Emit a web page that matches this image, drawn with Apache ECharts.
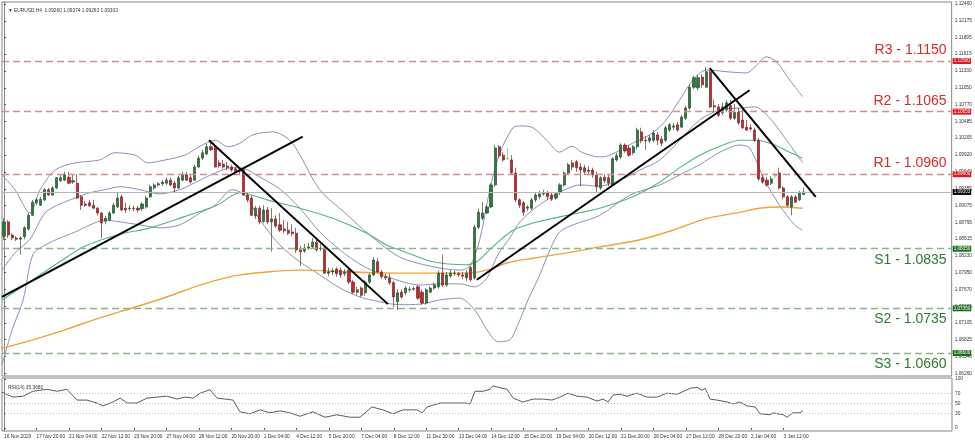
<!DOCTYPE html>
<html><head><meta charset="utf-8">
<script src="https://cdn.jsdelivr.net/npm/echarts@6/dist/echarts.min.js"></script>
<style>html,body{margin:0;padding:0;background:#fff}#c{width:975px;height:442px}</style>
</head><body><div id="c"></div>
<script>
const tradingDays = ['16 Nov','17 Nov','20 Nov','21 Nov','22 Nov','23 Nov','24 Nov','27 Nov','28 Nov','29 Nov','30 Nov','1 Dec','4 Dec','5 Dec','6 Dec','7 Dec','8 Dec','11 Dec','12 Dec','13 Dec','14 Dec','15 Dec','18 Dec','19 Dec','20 Dec','21 Dec','22 Dec','26 Dec','27 Dec','28 Dec','29 Dec','2 Jan','3 Jan','4 Jan'];
// [open, close, low, high]
const candles = [
[1.0856,1.0880,1.0850,1.0886],[1.0880,1.0858,1.0853,1.0883],[1.0858,1.0853,1.0850,1.0861],[1.0853,1.0851,1.0848,1.0856],[1.0851,1.0853,1.0825,1.0856],
[1.0855,1.0870,1.0851,1.0873],[1.0868,1.0891,1.0865,1.0895],[1.0891,1.0913,1.0890,1.0917],[1.0912,1.0917,1.0908,1.0920],[1.0908,1.0918,1.0907,1.0922],
[1.0917,1.0934,1.0915,1.0937],[1.0934,1.0925,1.0924,1.0937],[1.0925,1.0937,1.0924,1.0940],[1.0937,1.0954,1.0935,1.0955],[1.0949,1.0954,1.0947,1.0959],
[1.0950,1.0959,1.0949,1.0964],[1.0955,1.0945,1.0944,1.0964],[1.0947,1.0949,1.0944,1.0960],[1.0945,1.0920,1.0918,1.0960],[1.0922,1.0908,1.0900,1.0925],
[1.0910,1.0908,1.0905,1.0915],[1.0912,1.0907,1.0905,1.0917],[1.0908,1.0903,1.0902,1.0917],[1.0903,1.0895,1.0891,1.0905],[1.0895,1.0878,1.0853,1.0896],
[1.0881,1.0886,1.0876,1.0890],[1.0883,1.0895,1.0881,1.0898],[1.0895,1.0908,1.0893,1.0912],[1.0905,1.0920,1.0903,1.0929],[1.0922,1.0900,1.0898,1.0925],
[1.0903,1.0900,1.0895,1.0912],[1.0902,1.0903,1.0898,1.0908],[1.0903,1.0902,1.0898,1.0907],[1.0903,1.0900,1.0896,1.0907],[1.0902,1.0910,1.0898,1.0913],
[1.0905,1.0920,1.0902,1.0924],[1.0922,1.0939,1.0920,1.0942],[1.0937,1.0942,1.0934,1.0945],[1.0942,1.0944,1.0939,1.0947],[1.0944,1.0947,1.0940,1.0950],
[1.0945,1.0950,1.0942,1.0954],[1.0950,1.0942,1.0940,1.0954],[1.0945,1.0937,1.0929,1.0949],[1.0937,1.0954,1.0935,1.0957],[1.0950,1.0959,1.0949,1.0964],
[1.0959,1.0950,1.0949,1.0964],[1.0954,1.0947,1.0944,1.0959],[1.0950,1.0972,1.0949,1.0976],[1.0972,1.0987,1.0971,1.0991],[1.0987,1.0996,1.0984,1.1001],
[1.0994,1.1006,1.0992,1.1011],[1.1006,1.1001,1.0999,1.1017],[1.1004,1.0972,1.0971,1.1009],[1.0979,1.0974,1.0971,1.0984],[1.0977,1.0972,1.0969,1.0984],
[1.0974,1.0971,1.0967,1.0981],[1.0972,1.0967,1.0964,1.0976],[1.0969,1.0965,1.0962,1.0972],[1.0965,1.0967,1.0960,1.0972],[1.0967,1.0925,1.0924,1.0971],
[1.0925,1.0917,1.0913,1.0930],[1.0920,1.0891,1.0890,1.0924],[1.0890,1.0903,1.0885,1.0907],[1.0903,1.0880,1.0876,1.0907],[1.0881,1.0900,1.0878,1.0908],
[1.0900,1.0880,1.0876,1.0905],[1.0880,1.0885,1.0830,1.0903],[1.0885,1.0873,1.0870,1.0891],[1.0875,1.0866,1.0863,1.0895],[1.0868,1.0865,1.0861,1.0883],
[1.0866,1.0861,1.0858,1.0880],[1.0863,1.0860,1.0856,1.0876],[1.0861,1.0833,1.0828,1.0870],[1.0833,1.0830,1.0806,1.0840],[1.0831,1.0836,1.0828,1.0843],
[1.0836,1.0838,1.0833,1.0845],[1.0838,1.0846,1.0835,1.0853],[1.0846,1.0833,1.0830,1.0850],[1.0835,1.0836,1.0831,1.0843],[1.0836,1.0794,1.0793,1.0840],
[1.0794,1.0796,1.0789,1.0803],[1.0796,1.0798,1.0791,1.0803],[1.0801,1.0793,1.0788,1.0804],[1.0799,1.0791,1.0786,1.0803],[1.0793,1.0796,1.0789,1.0801],
[1.0799,1.0779,1.0776,1.0803],[1.0779,1.0762,1.0759,1.0783],[1.0762,1.0766,1.0757,1.0771],[1.0769,1.0757,1.0754,1.0772],[1.0761,1.0779,1.0756,1.0783],
[1.0779,1.0791,1.0776,1.0794],[1.0791,1.0816,1.0789,1.0821],[1.0813,1.0796,1.0794,1.0819],[1.0796,1.0788,1.0784,1.0799],[1.0788,1.0786,1.0783,1.0793],
[1.0786,1.0778,1.0774,1.0793],[1.0778,1.0754,1.0737,1.0781],[1.0746,1.0761,1.0732,1.0767],[1.0762,1.0754,1.0751,1.0767],[1.0761,1.0769,1.0757,1.0772],
[1.0766,1.0767,1.0762,1.0771],[1.0767,1.0768,1.0764,1.0772],[1.0771,1.0752,1.0749,1.0774],[1.0762,1.0744,1.0741,1.0766],[1.0744,1.0766,1.0741,1.0769],
[1.0762,1.0769,1.0761,1.0772],[1.0769,1.0774,1.0766,1.0778],[1.0771,1.0794,1.0768,1.0798],[1.0794,1.0774,1.0771,1.0825],[1.0774,1.0791,1.0771,1.0796],
[1.0789,1.0794,1.0786,1.0799],[1.0793,1.0794,1.0789,1.0798],[1.0793,1.0791,1.0788,1.0796],[1.0791,1.0789,1.0784,1.0796],[1.0786,1.0794,1.0781,1.0799],
[1.0803,1.0783,1.0779,1.0806],[1.0786,1.0871,1.0783,1.0875],[1.0871,1.0896,1.0868,1.0902],[1.0886,1.0895,1.0883,1.0913],[1.0895,1.0905,1.0893,1.0908],
[1.0905,1.0942,1.0903,1.0945],[1.0942,1.1004,1.0939,1.1009],[1.1006,1.0991,1.0987,1.1009],[1.0992,1.0984,1.0981,1.0997],[1.0986,1.0987,1.0984,1.1004],
[1.0984,1.0962,1.0959,1.0992],[1.0962,1.0917,1.0913,1.0971],[1.0917,1.0908,1.0903,1.0920],[1.0912,1.0896,1.0890,1.0915],[1.0903,1.0905,1.0898,1.0908],
[1.0903,1.0917,1.0900,1.0920],[1.0917,1.0925,1.0913,1.0929],[1.0922,1.0927,1.0918,1.0932],[1.0927,1.0929,1.0924,1.0934],[1.0929,1.0922,1.0917,1.0932],
[1.0925,1.0918,1.0915,1.0929],[1.0920,1.0927,1.0917,1.0930],[1.0929,1.0942,1.0925,1.0945],[1.0942,1.0962,1.0939,1.0965],[1.0962,1.0976,1.0959,1.0979],
[1.0979,1.0972,1.0967,1.0984],[1.0981,1.0971,1.0964,1.0984],[1.0972,1.0967,1.0940,1.0979],[1.0971,1.0964,1.0959,1.0976],[1.0967,1.0965,1.0960,1.0974],
[1.0967,1.0959,1.0954,1.0971],[1.0959,1.0939,1.0930,1.0964],[1.0937,1.0954,1.0934,1.0957],[1.0955,1.0949,1.0945,1.0960],[1.0954,1.0945,1.0940,1.0959],
[1.0942,1.0986,1.0939,1.0989],[1.0984,1.0991,1.0981,1.0996],[1.0989,1.1009,1.0986,1.1012],[1.1009,1.0999,1.0996,1.1012],[1.1004,1.0992,1.0989,1.1009],
[1.0996,1.1006,1.0992,1.1009],[1.1006,1.1034,1.1002,1.1038],[1.1031,1.1016,1.1012,1.1038],[1.1017,1.1016,1.1001,1.1024],[1.1016,1.1021,1.1012,1.1026],
[1.1017,1.1029,1.1014,1.1034],[1.1026,1.1017,1.1009,1.1031],[1.1019,1.1012,1.1007,1.1024],[1.1017,1.1038,1.1014,1.1041],[1.1034,1.1043,1.1031,1.1046],
[1.1039,1.1041,1.1034,1.1046],[1.1043,1.1034,1.1031,1.1048],[1.1039,1.1056,1.1038,1.1059],[1.1054,1.1071,1.1051,1.1075],[1.1071,1.1106,1.1068,1.1110],
[1.1106,1.1122,1.1103,1.1125],[1.1105,1.1122,1.1101,1.1127],[1.1123,1.1110,1.1105,1.1128],[1.1106,1.1132,1.1105,1.1140],[1.1132,1.1073,1.1071,1.1135],
[1.1075,1.1073,1.1064,1.1085],[1.1073,1.1059,1.1056,1.1078],[1.1063,1.1073,1.1059,1.1080],[1.1068,1.1080,1.1064,1.1085],[1.1075,1.1054,1.1051,1.1085],
[1.1054,1.1064,1.1051,1.1078],[1.1064,1.1046,1.1043,1.1071],[1.1051,1.1038,1.1036,1.1071],[1.1039,1.1034,1.1033,1.1051],[1.1038,1.1036,1.1033,1.1044],
[1.1034,1.1017,1.1014,1.1038],[1.1017,1.0952,1.0949,1.1021],[1.0954,1.0947,1.0944,1.0959],[1.0950,1.0942,1.0939,1.0955],[1.0945,1.0952,1.0942,1.0957],
[1.0957,1.0959,1.0954,1.0964],[1.0962,1.0937,1.0934,1.0971],[1.0937,1.0922,1.0918,1.0940],[1.0922,1.0908,1.0905,1.0925],[1.0905,1.0922,1.0891,1.0925],
[1.0922,1.0913,1.0912,1.0925],[1.0917,1.0929,1.0915,1.0932],[1.0926,1.0930,1.0926,1.0937]
];
const lightCandles = [124, 190];
const priceTicks = [1.12460,1.12175,1.11895,1.11615,1.11330,1.11050,1.10770,1.10485,1.10205,1.09920,1.09640,1.09355,1.09075,1.08795,1.08515,1.08230,1.07950,1.07670,1.07385,1.07105,1.06825,1.06540,1.06260];
// [bar index, price]
const bbUpper = [[-0.5,1.0959],[2.7,1.0934],[6.4,1.0895],[8.9,1.0934],[12.6,1.0967],[17.5,1.0979],[23.6,1.0984],[27.3,1.0996],[32.3,1.0992],[35.5,1.0979],[39.7,1.0984],[44.6,1.0992],[48.3,1.1007],[52.0,1.1017],[55.2,1.1006],[58.1,1.1012],[61.3,1.1026],[66.3,1.1031],[70.4,1.1017],[72.9,1.0992],[77.8,1.0934],[84.0,1.0895],[90.1,1.0858],[97.5,1.0821],[104.9,1.0806],[112.3,1.0799],[114.8,1.0806],[117.2,1.0850],[119.7,1.0934],[122.2,1.0996],[125.4,1.1038],[127.1,1.1041],[130.3,1.1038],[133.7,1.1017],[136.9,1.0997],[139.9,1.1007],[142.6,1.0996],[146.8,1.0989],[149.3,1.0992],[154.9,1.1012],[159.1,1.1026],[162.8,1.1048],[166.5,1.1085],[170.2,1.1122],[173.2,1.1135],[178.1,1.1132],[183.0,1.1130],[185.0,1.1140],[187.9,1.1157],[190.4,1.1148],[193.6,1.1118],[196.8,1.1090]];
const bbMiddle = [[-0.5,1.0799],[2.7,1.0828],[6.4,1.0851],[10.1,1.0895],[13.8,1.0910],[17.5,1.0920],[21.2,1.0929],[24.9,1.0934],[28.6,1.0939],[33.5,1.0934],[38.4,1.0927],[43.3,1.0934],[48.3,1.0950],[52.0,1.0962],[56.2,1.0971],[59.4,1.0969],[63.1,1.0955],[68.0,1.0935],[72.9,1.0903],[77.8,1.0863],[82.8,1.0833],[87.7,1.0809],[92.6,1.0793],[97.5,1.0781],[102.5,1.0774],[107.4,1.0776],[112.3,1.0776],[116.0,1.0771],[119.0,1.0786],[121.7,1.0825],[124.6,1.0853],[127.1,1.0880],[130.8,1.0903],[134.5,1.0920],[138.2,1.0934],[141.9,1.0942],[146.8,1.0940],[151.7,1.0950],[156.7,1.0967],[161.6,1.0984],[166.5,1.1017],[171.4,1.1051],[176.4,1.1068],[181.3,1.1071],[185.0,1.1073],[188.7,1.1054],[192.4,1.1021],[196.8,1.0979]];
const bbLower = [[-0.5,1.0640],[2.0,1.0699],[4.7,1.0749],[7.1,1.0825],[10.1,1.0841],[13.8,1.0853],[17.5,1.0863],[21.2,1.0875],[24.9,1.0883],[28.6,1.0880],[33.5,1.0875],[38.4,1.0870],[43.3,1.0875],[48.3,1.0895],[52.0,1.0908],[56.2,1.0934],[59.4,1.0925],[63.1,1.0883],[68.0,1.0841],[72.9,1.0813],[77.8,1.0791],[82.8,1.0769],[87.7,1.0754],[92.6,1.0746],[97.5,1.0741],[102.5,1.0742],[107.4,1.0749],[112.3,1.0752],[116.0,1.0732],[119.0,1.0699],[121.7,1.0679],[124.6,1.0682],[126.6,1.0707],[129.1,1.0749],[132.0,1.0791],[134.5,1.0833],[136.9,1.0863],[140.6,1.0876],[146.8,1.0891],[154.2,1.0925],[161.6,1.0942],[166.5,1.0959],[171.4,1.0976],[176.4,1.0997],[181.3,1.1009],[183.7,1.1004],[187.4,1.0950],[191.1,1.0908],[194.8,1.0875],[196.8,1.0866]];
const maGreen = [[-0.5,1.0749],[7.1,1.0783],[15.5,1.0821],[19.5,1.0838],[27.8,1.0858],[36.0,1.0870],[44.1,1.0888],[52.5,1.0908],[58.1,1.0929],[64.8,1.0917],[72.9,1.0903],[81.0,1.0886],[89.4,1.0861],[94.3,1.0841],[97.5,1.0833],[105.7,1.0813],[114.0,1.0808],[116.5,1.0813],[120.4,1.0838],[125.4,1.0866],[130.3,1.0878],[138.7,1.0891],[146.8,1.0903],[154.9,1.0922],[161.6,1.0947],[166.5,1.0971],[171.4,1.0992],[176.4,1.1007],[181.3,1.1017],[185.5,1.1017],[189.9,1.1009],[193.6,1.0997],[196.8,1.0987]];
const maOrange = [[-0.5,1.0668],[7.1,1.0682],[15.5,1.0700],[23.6,1.0719],[31.8,1.0736],[40.1,1.0754],[48.3,1.0774],[56.4,1.0789],[64.8,1.0796],[72.9,1.0799],[85.2,1.0796],[97.5,1.0794],[114.0,1.0794],[119.0,1.0799],[123.9,1.0811],[130.3,1.0819],[138.7,1.0828],[146.8,1.0838],[156.7,1.0850],[164.8,1.0866],[173.2,1.0886],[181.3,1.0896],[186.2,1.0903],[191.1,1.0905],[196.8,1.0903]];
const trendLines = [
  [[-0.5,1.0754],[73.6,1.1023]],
  [[50.5,1.1017],[94.6,1.0742]],
  [[116.5,1.0783],[183.7,1.1101]],
  [[173.9,1.1138],[200.0,1.0922]]
];
const levelNames = ['R3','R2','R1','S1','S2','S3'];
const levelValues = [1.1150,1.1065,1.0960,1.0835,1.0735,1.0660];
const lastPrice = 1.09303;
const rsiPoints = [[-0.5,73],[2.2,63],[4.7,65],[7.1,75],[10.6,79],[13.1,75],[15.5,79],[18.0,57],[20.4,57],[22.9,51],[24.4,45],[26.8,53],[28.6,61],[30.3,51],[32.8,51],[35.2,61],[37.7,63],[40.1,65],[42.6,59],[44.6,63],[46.6,61],[48.3,71],[50.7,78],[52.5,61],[56.4,57],[58.1,33],[60.6,29],[63.1,37],[65.5,31],[68.0,35],[70.4,31],[72.9,24],[76.1,33],[79.1,22],[82.0,27],[85.2,22],[87.7,22],[90.6,43],[93.3,37],[95.8,29],[98.3,37],[101.7,37],[103.0,31],[104.2,43],[107.4,51],[109.9,51],[113.5,51],[114.8,49],[116.0,75],[118.0,75],[119.7,79],[120.4,86],[122.2,82],[123.9,79],[125.4,61],[127.8,53],[130.3,59],[132.8,59],[135.0,57],[136.9,63],[138.9,71],[141.1,65],[143.6,63],[146.1,55],[147.5,59],[148.8,53],[150.0,67],[151.7,69],[153.4,65],[155.9,71],[158.4,63],[160.8,63],[163.3,71],[165.8,69],[169.0,81],[170.7,83],[171.9,77],[172.7,81],[173.9,59],[175.6,57],[178.1,53],[179.6,49],[181.3,53],[183.0,45],[185.0,43],[186.2,29],[188.7,27],[189.4,31],[191.9,27],[192.9,22],[194.3,31],[196.1,31],[196.8,35.4]];
const rsiTicks = [0,30,50,70,100];
const rsiLevels = [30,50,70];

const SLOTS = 234;
const cats = [];
tradingDays.forEach((d,k)=>{
  const hrs = k===0 ? [12,16,20] : (k===tradingDays.length-1 ? [0,4,8] : [0,4,8,12,16,20]);
  hrs.forEach(h=>cats.push(d+' '+String(h).padStart(2,'0')+':00'));
});
cats[0] = '16 Nov 2023';
const nBars = cats.length;
while (cats.length < SLOTS) cats.push('');
const showLabel = (i) => i===0 || (i%8===0 && i<nBars);

const SMALL = {fontSize:4.8, color:'#333', fontFamily:'Liberation Sans'};
const red = '#d42b2b', green = '#2c7a2c';
const lvlItems = [];
levelValues.forEach((v,k)=>{
  const isR = levelNames[k][0]==='R';
  lvlItems.push({yAxis:v, lineStyle:{color: isR?'#d88a8a':'#8db58d', type:[7,4], width:1.4},
    label:{show:true, position:'end', distance:1, formatter:v.toFixed(5), backgroundColor: isR?'#e3161c':'#1d6e1d', color:'#fff', fontSize:4.6, padding:[1,1,0,1], fontFamily:'Liberation Sans'}});
  lvlItems.push({yAxis:v, lineStyle:{color:'rgba(0,0,0,0)', width:0.1},
    label:{show:true, position: isR?'insideEndTop':'insideEndBottom', distance:[5,4], formatter: levelNames[k]+' - '+v.toFixed(4), color: isR?red:green, fontSize:14, fontFamily:'Liberation Sans'}});
});
lvlItems.push({yAxis:lastPrice, lineStyle:{color:'#b5b5b5', type:'solid', width:1},
  label:{show:true, position:'end', distance:1, formatter:lastPrice.toFixed(5), backgroundColor:'#000', color:'#fff', fontSize:4.6, padding:[1,1,0,1], fontFamily:'Liberation Sans'}});

const lineS = (data, color, width, extra) => Object.assign({type:'line', xAxisIndex:2, yAxisIndex:0, data, showSymbol:false, symbol:'none', smooth:0.3, lineStyle:{color, width}, silent:true, z:3}, extra||{});

const series = [
  lineS(bbUpper,'#8d8fb8',1),
  lineS(bbMiddle,'#8d8fb8',1),
  lineS(bbLower,'#8d8fb8',1),
  lineS(maGreen,'#4fb586',1.1),
  lineS(maOrange,'#eea43a',1.4,{markLine:{symbol:['none','none'], precision:5, silent:true, animation:false, data: lvlItems}}),
  {type:'candlestick', xAxisIndex:0, yAxisIndex:0, barWidth:2.6, z:4,
   data: candles.map((c,i)=> lightCandles.includes(i) ? {value:c, itemStyle:{color:'#8fd88f', borderColor:'#74c074'}} : c),
   itemStyle:{color:'#2b7d3a', color0:'#c8262b', borderColor:'#2d4a33', borderColor0:'#6d2a2a', borderWidth:0.7}}
];
trendLines.forEach(t=>series.push({type:'line', xAxisIndex:2, yAxisIndex:0, data:t, showSymbol:false, symbol:'none', lineStyle:{color:'#000', width:2}, z:5, silent:true}));
series.push({type:'line', xAxisIndex:3, yAxisIndex:1, data:rsiPoints, showSymbol:false, symbol:'none', lineStyle:{color:'#5c5c5c', width:1}, silent:true,
  markLine:{symbol:['none','none'], precision:2, silent:true, label:{show:false}, lineStyle:{color:'#bdbdbd', type:[1,2], width:1}, data: rsiLevels.map(v=>({yAxis:v}))}});

const chart = echarts.init(document.getElementById('c'), null, {renderer:'canvas'});
chart.setOption({
  animation:false,
  backgroundColor:'#fff',
  title:[
    {text:'▼ EURUSD,H4  1.09260 1.09374 1.09263 1.09303', left:3, top:3, textStyle:Object.assign({fontWeight:'normal'}, SMALL)},
    {text:'RSI(14) 35.3680', left:3, top:380, textStyle:Object.assign({fontWeight:'normal'}, SMALL)}
  ],
  grid:[
    {left:2, top:2, width:950, height:374, show:true, borderColor:'#858585', borderWidth:1, containLabel:false},
    {left:2, top:378, width:950, height:53, show:true, borderColor:'#858585', borderWidth:1, containLabel:false}
  ],
  xAxis:[
    {type:'category', gridIndex:0, data:cats, boundaryGap:true, show:false},
    {type:'category', gridIndex:1, data:cats, boundaryGap:true, axisLine:{show:false},
      axisTick:{show:true, interval:showLabel, length:2, alignWithLabel:true, lineStyle:{color:'#555'}},
      axisLabel:Object.assign({interval:showLabel, align:'left', margin:3}, SMALL)},
    {type:'value', gridIndex:0, min:-0.5, max:SLOTS-0.5, show:false},
    {type:'value', gridIndex:1, min:-0.5, max:SLOTS-0.5, show:false}
  ],
  yAxis:[
    {type:'value', gridIndex:0, position:'right', min:1.06214, max:1.1249, splitLine:{show:false},
      axisLine:{show:true, lineStyle:{color:'#858585'}},
      axisTick:{show:true, length:2, customValues:priceTicks, lineStyle:{color:'#555'}},
      axisLabel:Object.assign({customValues:priceTicks, margin:3, formatter:v=>Number(v).toFixed(5)}, SMALL)},
    {type:'value', gridIndex:1, position:'right', min:-6.12, max:102.04, splitLine:{show:false},
      axisLine:{show:true, lineStyle:{color:'#858585'}},
      axisTick:{show:true, length:2, customValues:rsiTicks, lineStyle:{color:'#555'}},
      axisLabel:Object.assign({customValues:rsiTicks, margin:3}, SMALL)}
  ],
  series
});
</script></body></html>
